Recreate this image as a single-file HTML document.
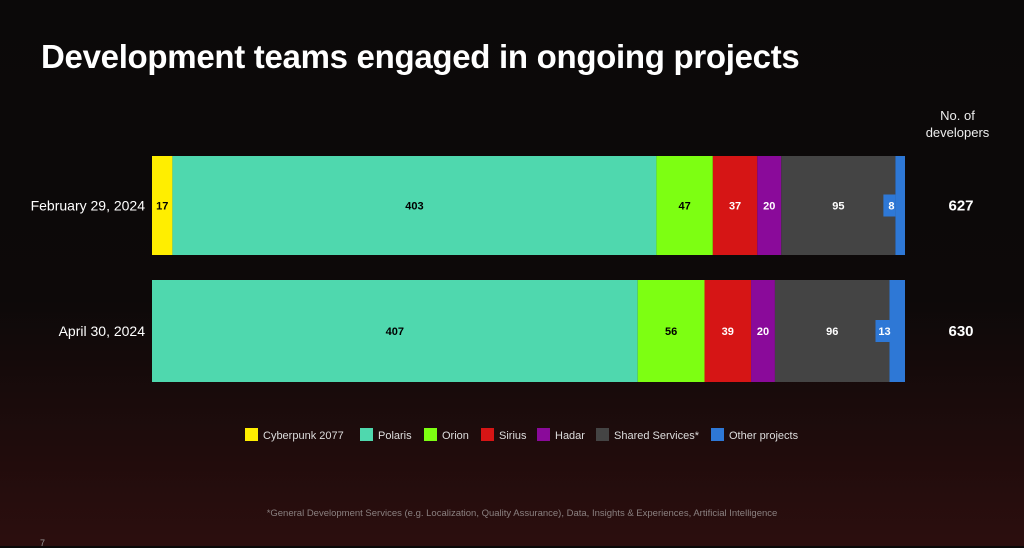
<!DOCTYPE html>
<html><head><meta charset="utf-8"><style>
body{margin:0;width:1024px;height:546px;overflow:hidden;background:linear-gradient(180deg,#0b0909 0%,#0d0909 55%,#2c0e0e 100%);font-family:"Liberation Sans",sans-serif;color:#fff;position:relative}
.t{position:absolute;white-space:nowrap}
</style></head><body>
<div class="t" style="left:41px;top:38px;font-size:33px;font-weight:bold;letter-spacing:-0.3px">Development teams engaged in ongoing projects</div>
<div class="t" style="left:915px;top:107px;width:85px;text-align:center;font-size:13px;line-height:17px;color:#eee">No. of<br>developers</div>
<svg id="c" width="1024" height="546" style="position:absolute;left:0;top:0"></svg>
<div class="t" style="left:0;width:1044px;text-align:center;top:508px;font-size:9.5px;color:#8a8080">*General Development Services (e.g. Localization, Quality Assurance), Data, Insights &amp; Experiences, Artificial Intelligence</div>
<div class="t" style="left:40px;top:538px;font-size:9px;color:#999">7</div>
<script>
const categories=["February 29, 2024","April 30, 2024"];
const seriesNames=["Cyberpunk 2077","Polaris","Orion","Sirius","Hadar","Shared Services*","Other projects"];
const cyberpunk=[17,0];
const polaris=[403,407];
const orion=[47,56];
const sirius=[37,39];
const hadar=[20,20];
const shared=[95,96];
const other=[8,13];
const totals=[627,630];
const series=[cyberpunk,polaris,orion,sirius,hadar,shared,other];
const colors=["#ffee00","#4fd8ae","#7dff12","#d61515","#8a0a9a","#444444","#2e78d6"];
const textCol=["#000","#000","#000","#fff","#fff","#fff","#fff"];
const svg=document.getElementById('c');const NS="http://www.w3.org/2000/svg";
const X0=152,W=753;const rowY=[156,280],rowH=[99,102];
function mk(t,a){const e=document.createElementNS(NS,t);for(const k in a)e.setAttribute(k,a[k]);svg.appendChild(e);return e;}
categories.forEach((cat,i)=>{
  const sum=series.reduce((s,a)=>s+a[i],0);
  const x=v=>X0+v/sum*W;
  let acc=0;const y=rowY[i],h=rowH[i];
  const lab=mk('text',{x:145,y:y+h/2+5,'text-anchor':'end','font-size':14,fill:'#fff'});lab.textContent=cat;
  
  
  series.forEach((s,j)=>{
    const v=s[i];if(!v){return;}
    const x1=x(acc),x2=x(acc+v);acc+=v;
    const r=mk('rect',{x:x1,y:y,width:x2-x1,height:h,fill:colors[j]});
    
    
    let cx=(x1+x2)/2,fill=textCol[j];
    if(j===6){const bw=v>=10?14:12;const b=mk('rect',{x:x1-bw,y:y+h/2-11,width:bw,height:22,fill:colors[j]});
      
      
      cx=x1-bw/2+2;}
    const t=mk('text',{x:cx,y:y+h/2+4,'text-anchor':'middle','font-size':11,'font-weight':'bold',fill:fill});t.textContent=v;
    
    
  });
  const tt=mk('text',{x:961,y:y+h/2+5,'text-anchor':'middle','font-size':15,'font-weight':'bold',fill:'#fff'});tt.textContent=totals[i];
  
  
});
const legX=[245,360,424,481,537,596,711];
seriesNames.forEach((n,j)=>{
  const r=mk('rect',{x:legX[j],y:428,width:13,height:13,fill:colors[j]});
  
  
  const t=mk('text',{x:legX[j]+18,y:439,'font-size':11,fill:'#ddd'});t.textContent=n;
  
  
});
</script>
</body></html>
